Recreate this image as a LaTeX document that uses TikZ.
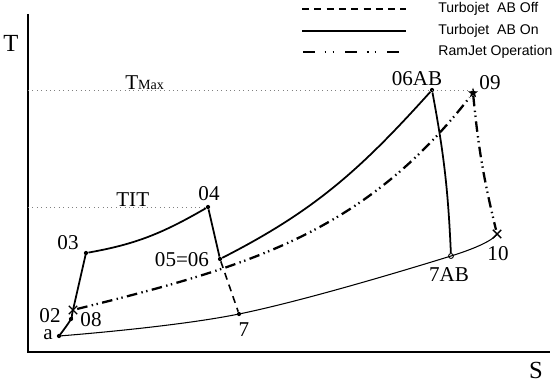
\documentclass[tikz,border=0pt]{standalone}
\usepackage{fontspec}
\setmainfont{Liberation Serif}
\newfontfamily\legendfont{Liberation Sans}
\usetikzlibrary{shapes.geometric, shapes.misc, calc}

\begin{document}
\begin{tikzpicture}[x=0.02cm, y=0.02cm,
    dot/.style={circle, fill, inner sep=0pt, minimum size=2.4pt},
    opendot/.style={circle, draw, fill=white, inner sep=0pt, minimum size=2.8pt, line width=0.5pt},
    xmark/.style={cross out, draw, inner sep=0pt, minimum size=4pt, line width=0.8pt},
    starmark/.style={star, star points=5, star point ratio=2.4, fill, inner sep=0pt, minimum size=6pt},
    lbl/.style={inner sep=0pt, font=\fontsize{12}{14}\selectfont},
    axislbl/.style={inner sep=0pt, font=\fontsize{14}{16}\selectfont},
    legtxt/.style={anchor=west, inner sep=0pt, font=\legendfont\fontsize{8}{9}\selectfont},
    abon/.style={line width=1pt},
    aboff/.style={line width=0.9pt, dash pattern=on 4pt off 3pt},
    ramjet/.style={line width=1.3pt, dash pattern=on 6pt off 2.5pt on 0.8pt off 2pt on 0.8pt off 2.5pt},
    ramjetkey/.style={line width=1.3pt, dash pattern=on 6.8pt off 5.5pt on 1pt off 3.5pt on 1pt off 6.2pt},
    refline/.style={gray, line width=0.5pt, dotted}]
    \useasboundingbox (0,0) rectangle (553,382);

    % axes
    \coordinate (origin) at (28,30);
    \coordinate (ytop) at (28,368);
    \coordinate (xend) at (550,30);
    \draw[line width=1.1pt] (ytop) -- (origin) -- (xend);
    \node[axislbl] (tlbl) at (11,338.5) {T};
    \node[axislbl] (slbl) at (536,12) {S};

    % state points
    \node[dot] (a) at (59,46) {};
    \node[dot] (p02) at (71,63) {};
    \node[xmark] (p08) at (73,72) {};
    \node[dot] (p03) at (86,129) {};
    \node[dot] (p04) at (208,175) {};
    \node[dot] (p06) at (220,123) {};
    \node[dot] (p7) at (239,68) {};
    \node[dot] (p06AB) at (432,292) {};
    \node[opendot] (p7AB) at (451,126) {};
    \node[starmark] (p09) at (473,289) {};
    \node[xmark] (p10) at (497,148) {};

    % temperature limits
    \coordinate (tmax0) at (28,292);
    \coordinate (tit0) at (28,175);
    \draw[refline] (tmax0) -- (tmax0 -| p09);
    \draw[refline] (tit0) -- (p04);
    \node[lbl, anchor=base west] (ltmax) at (125,292) {T{\fontsize{8}{9}\selectfont Max}};
    \node[lbl, anchor=base west] (ltit) at (116,175) {TIT};

    % ambient pressure line
    \draw[line width=0.6pt] plot[smooth, tension=0.6] coordinates {(a) (p7) (p7AB) (p10)};

    % turbojet cycle
    \draw[abon] plot[smooth, tension=0.7] coordinates {(a) (p02) (p08) (p03)};
    \draw[abon] (p03) to[out=10, in=-150] (p04);
    \draw[abon] (p04) -- (p06);
    \draw[abon] (p06) to[out=27, in=-132] (p06AB);
    \draw[abon] (p06AB) to[bend left=4] (p7AB);
    \draw[aboff] (p06) -- (p7);

    % ramjet
    \draw[ramjet] (p08) to[out=14, in=-128] (p09);
    \draw[ramjet] (p09) to[bend right=4] (p10);

    % labels
    \node[lbl] (la) at (48,47) {a};
    \node[lbl] (l02) at (50,66) {02};
    \node[lbl] (l08) at (91,62) {08};
    \node[lbl] (l03) at (68,139) {03};
    \node[lbl] (l04) at (209,188) {04};
    \node[lbl] (l06) at (182,122.5) {05=06};
    \node[lbl] (l7) at (244,52) {7};
    \node[lbl] (l06AB) at (417,303) {06AB};
    \node[lbl] (l09) at (490,299) {09};
    \node[lbl] (l10) at (498,128) {10};
    \node[lbl] (l7AB) at (449,107) {7AB};

    % legend
    \coordinate (leg1a) at (302,373);
    \coordinate (leg1b) at (406,373);
    \coordinate (leg2a) at (302,351);
    \coordinate (leg2b) at (406,351);
    \coordinate (leg3a) at (303,330);
    \coordinate (leg3b) at (402,330);
    \draw[aboff] (leg1a) -- (leg1b);
    \draw[abon] (leg2a) -- (leg2b);
    \draw[ramjetkey] (leg3a) -- (leg3b);
    \node[legtxt] (legoff) at (438,373) {Turbojet\ \ AB Off};
    \node[legtxt] (legon) at (438,351) {Turbojet\ \ AB On};
    \node[legtxt] (legram) at (438,330) {RamJet Operation};
\end{tikzpicture}
\end{document}
